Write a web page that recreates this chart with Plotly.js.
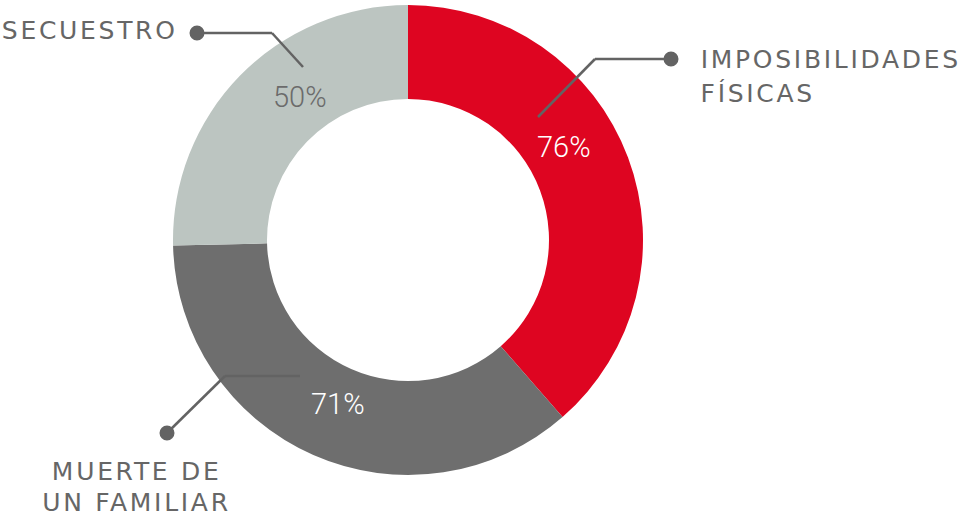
<!DOCTYPE html>
<html>
<head>
<meta charset="utf-8">
<script src="https://cdn.plot.ly/plotly-3.0.1.min.js"></script>
<style>
html,body{margin:0;padding:0;background:#fff;}
#chart{width:962px;height:516px;}
.annotation .annotation-text{letter-spacing:2.7px;}
.annotation[data-index="0"] .annotation-text,
.annotation[data-index="1"] .annotation-text,
.annotation[data-index="2"] .annotation-text{letter-spacing:0px;}
</style>
</head>
<body>
<div id="chart"></div>
<script>
// ---- data ----
const labelLines = [["IMPOSIBILIDADES", "FÍSICAS"], ["MUERTE DE", "UN FAMILIAR"], ["SECUESTRO"]];
const categories = labelLines.map(l => l.join(" "));
const values = [76, 71, 50];
const percentText = values.map(v => v + "%");
const colors = ["#DE0521", "#6E6E6E", "#BCC5C1"];
const pctColors = ["#FFFFFF", "#FFFFFF", "#6B6B6B"];

// ---- layout helpers (pixel -> paper) ----
const W = 962, H = 516;
const px = x => x / W;
const py = y => 1 - y / H;
const LS = 2.7; // letter spacing used in CSS above

const cx = 408, cy = 240, R = 235;

const trace = {
  type: "pie",
  labels: categories,
  values: values,
  sort: false,
  direction: "clockwise",
  rotation: 0,
  hole: 0.6,
  textinfo: "none",
  hoverinfo: "label+value",
  marker: {colors: colors, line: {width: 0}},
  domain: {x: [px(cx - R), px(cx + R)], y: [py(cy + R), py(cy - R)]},
  showlegend: false
};

// percent label positions (px)
const pctPos = [[564, 147], [338, 404], [300, 97]];
// category label anchors
const lblStyle = [
  {x: 699, ys: [60, 93], xanchor: "left"},
  {x: 135, ys: [471, 502], xanchor: "center"},
  {x: 176, ys: [31], xanchor: "right"}
];
// leader lines (px)
const leaders = [
  [[671, 59], [595, 59], [538, 117]],
  [[167, 433], [225, 376], [300, 376]],
  [[197, 33], [272, 33], [303, 67]]
];

const annotations = [];
values.forEach((v, i) => {
  annotations.push({
    x: px(pctPos[i][0]), y: py(pctPos[i][1]), xref: "paper", yref: "paper",
    text: percentText[i], showarrow: false, xanchor: "center", yanchor: "middle",
    font: {family: "Roboto, sans-serif", size: 29, color: pctColors[i], weight: 300}
  });
});
labelLines.forEach((lines, i) => {
  lines.forEach((t, j) => {
    const n = t.length;
    const st = lblStyle[i];
    let x = st.x;
    if (st.xanchor === "left") x += n * LS / 2;
    else if (st.xanchor === "right") x += -n * LS / 2 + LS;
    else x += LS / 2;
    annotations.push({
      x: px(x), y: py(st.ys[j]), xref: "paper", yref: "paper",
      text: t, showarrow: false, xanchor: st.xanchor, yanchor: "middle",
      font: {family: "DejaVu Sans, sans-serif", size: 25, color: "#666666", weight: 400}
    });
  });
});

const shapes = [];
const dotR = 7.5;
leaders.forEach(pts => {
  for (let k = 0; k < pts.length - 1; k++) {
    shapes.push({type: "line", xref: "paper", yref: "paper",
      x0: px(pts[k][0]), y0: py(pts[k][1]), x1: px(pts[k + 1][0]), y1: py(pts[k + 1][1]),
      line: {color: "#636363", width: 2.5}});
  }
  const d = pts[0];
  shapes.push({type: "circle", xref: "paper", yref: "paper",
    x0: px(d[0] - dotR), x1: px(d[0] + dotR), y0: py(d[1] + dotR), y1: py(d[1] - dotR),
    fillcolor: "#636363", line: {width: 0}});
});

const layout = {
  width: W, height: H,
  margin: {l: 0, r: 0, t: 0, b: 0},
  paper_bgcolor: "#ffffff",
  showlegend: false,
  annotations: annotations,
  shapes: shapes
};

Plotly.newPlot("chart", [trace], layout, {displayModeBar: false, staticPlot: true});
</script>
</body>
</html>
